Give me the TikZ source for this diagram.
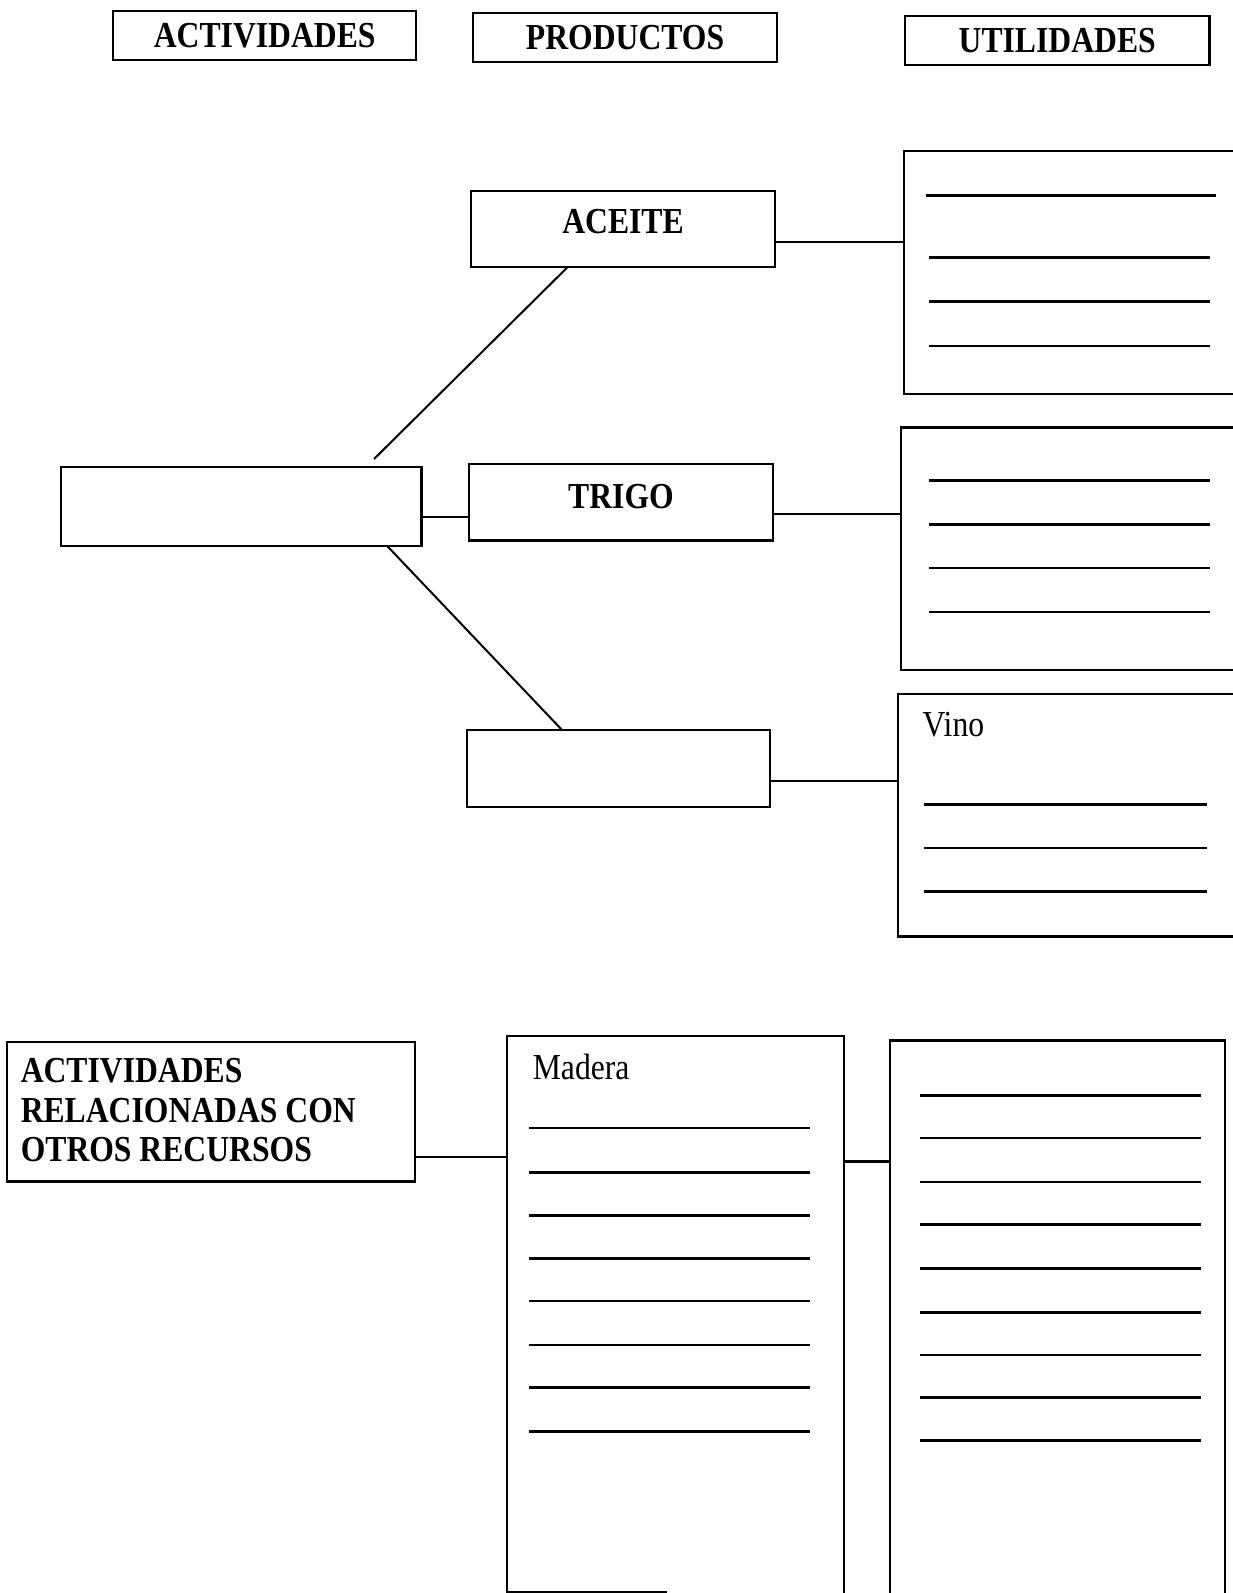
\documentclass[tikz,border=0pt]{standalone}
\usepackage{fontspec}
\setmainfont{Liberation Serif}
\newfontfamily\tnr[FakeStretch=0.865]{Liberation Serif}
\newcommand\hconnect[3]{\path ([yshift=#3]#1.east) coordinate (tmpc); \draw[conn] (tmpc) -- (tmpc -| #2.west);}
\begin{document}
\begin{tikzpicture}[x=0.509pt,y=-0.509pt,
  box/.style={draw, line width=1.1pt, rectangle, inner sep=0pt, outer sep=0pt},
  openbox/.style={rectangle, inner sep=0pt, outer sep=0pt},
  sz/.style 2 args={minimum width=#1*0.509pt, minimum height=#2*0.509pt},
  lbl/.style={font=\tnr\bfseries\fontsize{18.3}{20}\selectfont, inner sep=0pt},
  plain/.style={font=\tnr\fontsize{18.3}{20}\selectfont, inner sep=0pt},
  wline/.style={line width=1.3pt},
  conn/.style={line width=1.2pt},
  diag/.style={line width=1pt},
  edge/.style={line width=1.1pt}]
\useasboundingbox (0,0) rectangle (1210.2,1564.8);
\fill[white] (0,0) rectangle (1210.2,1564.8);

% headers
\node[box, sz={298}{48}] (hact) at (260,35) {};
\node[lbl] (hactt) at (260,35) {ACTIVIDADES};
\node[box, sz={298}{48}] (hprod) at (614,37) {};
\node[lbl] (hprodt) at (614,37) {PRODUCTOS};
\node[box, sz={299}{48}] (hutil) at (1038.5,40) {};
\node[lbl] (hutilt) at (1038.5,40) {UTILIDADES};

% top part
\node[box, sz={298}{74}] (aceite) at (612,225) {};
\node[lbl] (aceitet) at (612,218) {ACEITE};
\node[box, sz={325}{239}] (u1) at (1050.5,267.5) {};
\draw[wline] (910,192) -- (1194,192);
\draw[wline] (913,253) -- (1189,253);
\draw[wline] (913,296) -- (1189,296);
\draw[wline] (913,340) -- (1189,340);

\node[box, sz={354}{77}] (act) at (237,497.5) {};
\node[box, sz={298}{75}] (trigo) at (610,493.5) {};
\node[lbl] (trigot) at (610,488) {TRIGO};
\node[box, sz={328}{238}] (u2) at (1049,539) {};
\draw[wline] (913,472) -- (1189,472);
\draw[wline] (913,515) -- (1189,515);
\draw[wline] (913,558) -- (1189,558);
\draw[wline] (913,601) -- (1189,601);

\node[box, sz={297}{76}] (p3) at (607.5,755) {};
\node[box, sz={331}{238}] (vino) at (1047.5,801) {};
\node[plain, anchor=base west] (vinot) at (906,723) {Vino};
\draw[wline] (908,790) -- (1186,790);
\draw[wline] (908,833) -- (1186,833);
\draw[wline] (908,876) -- (1186,876);

\hconnect{aceite}{u1}{-6.62pt}
\hconnect{act}{trigo}{-5.34pt}
\hconnect{trigo}{u2}{-5.85pt}
\hconnect{p3}{vino}{-6.11pt}

\coordinate (d1free) at (367.4,450.9);
\draw[diag] (d1free) -- ([xshift=-27.5pt]aceite.south);
\draw[diag] ([xshift=72.8pt]act.south) -- ([xshift=-28.25pt]p3.north);

% bottom part
\node[box, sz={401}{137}] (otros) at (207.5,1092) {};
\node[lbl, anchor=west] (ot1) at (20,1052) {ACTIVIDADES};
\node[lbl, anchor=west] (ot2) at (20,1090.5) {RELACIONADAS CON};
\node[lbl, anchor=west] (ot3) at (20,1129) {OTROS RECURSOS};

\node[openbox, sz={331.3}{547}] (madera) at (663.35,1291.5) {};
\draw[edge] (madera.south west) -- (madera.north west) -- (madera.north east) -- (madera.south east);
\draw[edge] ([yshift=0.6pt]madera.south west) -- ([yshift=0.6pt,xshift=80pt]madera.south west);
\node[plain, anchor=base west] (maderat) at (523,1060) {Madera};
\foreach \yy in {1108,1152,1194,1236,1278,1321,1363,1406}
  \draw[wline] (520,\yy) -- (796,\yy);

\node[openbox, sz={329}{543}] (ur) at (1038.5,1293.5) {};
\draw[edge] (ur.south west) -- (ur.north west) -- (ur.north east) -- (ur.south east);
\foreach \yy in {1076,1118,1161,1203,1246,1289,1331,1373,1415}
  \draw[wline] (904,\yy) -- (1180,\yy);

\hconnect{otros}{madera}{-22.65pt}
\hconnect{madera}{ur}{76.6pt}
\end{tikzpicture}
\end{document}
